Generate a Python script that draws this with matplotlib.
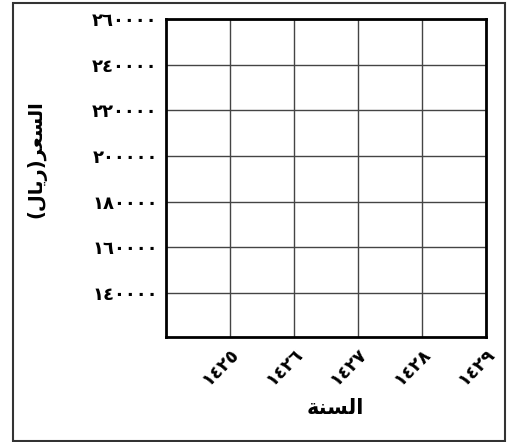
import matplotlib
matplotlib.use("Agg")
import matplotlib.pyplot as plt
from matplotlib.patches import Rectangle

# ---- data ----
years = [1425, 1426, 1427, 1428, 1429]
price_ticks = [140000, 160000, 180000, 200000, 220000, 240000, 260000]
x_label = "السنة"
y_label = "السعر(ريال)"

# ---- minimal Arabic shaping (matplotlib has no complex text layout) ----
FORMS = {  # iso, fin, init, med
    'ا': ('\uFE8D', '\uFE8E', None, None),
    'ر': ('\uFEAD', '\uFEAE', None, None),
    'ة': ('\uFE93', '\uFE94', None, None),
    'ل': ('\uFEDD', '\uFEDE', '\uFEDF', '\uFEE0'),
    'س': ('\uFEB1', '\uFEB2', '\uFEB3', '\uFEB4'),
    'ع': ('\uFEC9', '\uFECA', '\uFECB', '\uFECC'),
    'ي': ('\uFEF1', '\uFEF2', '\uFEF3', '\uFEF4'),
    'ن': ('\uFEE5', '\uFEE6', '\uFEE7', '\uFEE8'),
}
MIRROR = {'(': ')', ')': '('}


def dual(c):
    return c in FORMS and FORMS[c][2] is not None


def shape(text):
    out = []
    for i, c in enumerate(text):
        if c not in FORMS:
            out.append(MIRROR.get(c, c))
            continue
        prev = text[i - 1] if i > 0 else ''
        nxt = text[i + 1] if i + 1 < len(text) else ''
        jp = dual(prev)
        jn = dual(c) and nxt in FORMS
        iso, fin, ini, med = FORMS[c]
        if jp and jn:
            out.append(med)
        elif jp:
            out.append(fin)
        elif jn:
            out.append(ini)
        else:
            out.append(iso)
    return ''.join(reversed(out))


def ar_digits(n):
    return ''.join(chr(0x0660 + int(d)) for d in str(n))


plt.rcParams['font.family'] = ['DejaVu Sans']

fig = plt.figure(figsize=(5.09, 4.42), dpi=100)
ax = fig.add_axes([166 / 509, 1 - 337 / 442, 320 / 509, 318 / 442])

ax.set_xlim(years[0] - 1, years[-1])
ax.set_ylim(120700, 260000)
ax.set_xticks(years)
ax.set_yticks(price_ticks)
ax.set_xticklabels([ar_digits(y) for y in years], rotation=45, ha='right',
                   va='top', rotation_mode='anchor', fontweight='bold', fontsize=13)
ax.set_yticklabels([ar_digits(v) for v in price_ticks], fontweight='bold', fontsize=13)
ax.tick_params(axis='both', length=0)
ax.tick_params(axis='y', pad=6)
ax.tick_params(axis='x', pad=6)
ax.grid(True, color='#444444', linewidth=1.0)
for s in ax.spines.values():
    s.set_linewidth(2)
    s.set_color('black')

fig.text(335 / 509, 1 - 408 / 442, shape(x_label), ha='center', va='center',
         fontsize=15, fontweight='bold')
fig.text(36 / 509, 1 - 159 / 442, shape(y_label), ha='center', va='center',
         rotation=90, fontsize=14, fontweight='bold')

fig.patches.append(Rectangle((13 / 509, 1 - 441 / 442), 492 / 509, 438 / 442,
                             transform=fig.transFigure, fill=False,
                             edgecolor='#333333', linewidth=1.5))

fig.savefig('out.png', dpi=100)
